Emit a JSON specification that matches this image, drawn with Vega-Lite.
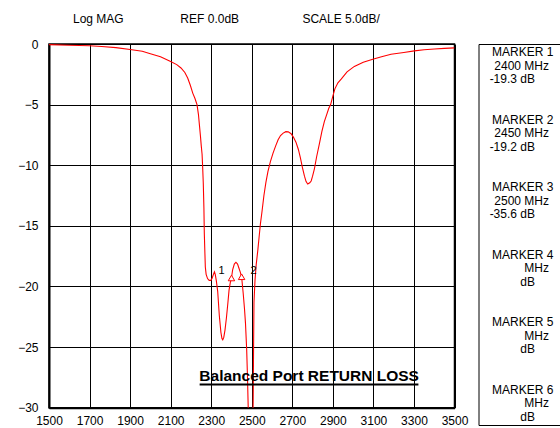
{
  "$schema": "https://vega.github.io/schema/vega-lite/v6.json",
  "padding": {"left": 5, "top": 12, "right": 0, "bottom": 0},
  "bounds": "flush",
  "spacing": 23.5,
  "config": {"font": "Liberation Sans", "view": {"stroke": null}},
  "hconcat": [
    {
      "width": 405.5,
      "height": 363.7,
      "title": {
        "text": "Log MAG\u00a0\u00a0\u00a0\u00a0\u00a0\u00a0\u00a0\u00a0\u00a0\u00a0\u00a0\u00a0\u00a0\u00a0\u00a0\u00a0\u00a0REF 0.0dB\u00a0\u00a0\u00a0\u00a0\u00a0\u00a0\u00a0\u00a0\u00a0\u00a0\u00a0\u00a0\u00a0\u00a0\u00a0\u00a0\u00a0\u00a0\u00a0SCALE 5.0dB/",
        "anchor": "start",
        "frame": "group",
        "dx": 24,
        "offset": 3,
        "baseline": "alphabetic",
        "fontSize": 12,
        "fontWeight": "normal",
        "font": "Liberation Sans",
        "color": "black"
      },
      "view": {"stroke": "black", "strokeWidth": 1.5},
      "layer": [
        {
          "data": {"values": [
            {"f":1500,"db":-0.05},{"f":1600,"db":-0.1},{"f":1700,"db":-0.15},{"f":1760,"db":-0.2},{"f":1830,"db":-0.3},{"f":1900,"db":-0.45},{"f":1960,"db":-0.6},{"f":2000,"db":-0.8},{"f":2050,"db":-1.05},{"f":2100,"db":-1.45},{"f":2130,"db":-1.7},{"f":2151,"db":-1.98},{"f":2170,"db":-2.35},{"f":2184,"db":-2.8},{"f":2197,"db":-3.4},{"f":2209,"db":-4.05},{"f":2220,"db":-4.5},{"f":2230,"db":-5.0},{"f":2237,"db":-5.8},{"f":2242,"db":-6.7},{"f":2247,"db":-7.6},{"f":2251,"db":-8.4},{"f":2255,"db":-9.1},{"f":2258,"db":-10.2},{"f":2261,"db":-11.5},{"f":2264,"db":-13.5},{"f":2266,"db":-15.6},{"f":2269,"db":-17.3},{"f":2271,"db":-18.4},{"f":2275,"db":-19.0},{"f":2282,"db":-19.35},{"f":2290,"db":-19.5},{"f":2298,"db":-19.5},{"f":2305,"db":-19.3},{"f":2311,"db":-19.0},{"f":2316,"db":-18.8},{"f":2320,"db":-19.0},{"f":2325,"db":-19.5},{"f":2332,"db":-20.4},{"f":2340,"db":-22.4},{"f":2348,"db":-23.8},{"f":2353,"db":-24.3},{"f":2357,"db":-24.4},{"f":2362,"db":-24.2},{"f":2368,"db":-23.6},{"f":2375,"db":-22.6},{"f":2382,"db":-21.4},{"f":2388,"db":-20.3},{"f":2394,"db":-19.7},{"f":2400,"db":-19.3},{"f":2406,"db":-18.6},{"f":2414,"db":-18.15},{"f":2422,"db":-18.0},{"f":2430,"db":-18.15},{"f":2437,"db":-18.5},{"f":2443,"db":-18.8},{"f":2450,"db":-19.2},{"f":2458,"db":-20.6},{"f":2464,"db":-21.8},{"f":2469,"db":-23.0},{"f":2475,"db":-25.2},{"f":2479,"db":-27.5},{"f":2483,"db":-30.3},{"f":2490,"db":-33.5},{"f":2500,"db":-35.6},{"f":2504,"db":-32.5},{"f":2507,"db":-29.5},{"f":2509,"db":-25.0},{"f":2511,"db":-21.3},{"f":2516,"db":-19.5},{"f":2522,"db":-18.2},{"f":2530,"db":-17.0},{"f":2537,"db":-15.8},{"f":2543,"db":-14.8},{"f":2550,"db":-13.9},{"f":2560,"db":-12.5},{"f":2570,"db":-11.4},{"f":2580,"db":-10.5},{"f":2592,"db":-9.7},{"f":2605,"db":-9.0},{"f":2618,"db":-8.4},{"f":2630,"db":-7.9},{"f":2642,"db":-7.55},{"f":2655,"db":-7.35},{"f":2668,"db":-7.23},{"f":2680,"db":-7.25},{"f":2694,"db":-7.4},{"f":2706,"db":-7.7},{"f":2718,"db":-8.1},{"f":2730,"db":-8.7},{"f":2740,"db":-9.4},{"f":2750,"db":-10.2},{"f":2760,"db":-10.9},{"f":2768,"db":-11.35},{"f":2776,"db":-11.55},{"f":2786,"db":-11.45},{"f":2793,"db":-11.3},{"f":2800,"db":-10.9},{"f":2809,"db":-10.3},{"f":2820,"db":-9.3},{"f":2834,"db":-8.2},{"f":2846,"db":-7.2},{"f":2858,"db":-6.4},{"f":2870,"db":-5.8},{"f":2880,"db":-5.3},{"f":2889,"db":-5.0},{"f":2900,"db":-4.3},{"f":2910,"db":-3.7},{"f":2925,"db":-3.2},{"f":2941,"db":-2.9},{"f":2970,"db":-2.3},{"f":3006,"db":-1.85},{"f":3050,"db":-1.5},{"f":3097,"db":-1.25},{"f":3140,"db":-1.05},{"f":3187,"db":-0.85},{"f":3250,"db":-0.7},{"f":3302,"db":-0.57},{"f":3350,"db":-0.47},{"f":3401,"db":-0.41},{"f":3450,"db":-0.36},{"f":3500,"db":-0.32}
          ]},
          "mark": {"type": "line", "color": "#ff0000", "strokeWidth": 1.1, "clip": true},
          "encoding": {
            "x": {"field": "f", "type": "quantitative",
              "scale": {"domain": [1500, 3500], "nice": false, "zero": false},
              "axis": {"values": [1500,1700,1900,2100,2300,2500,2700,2900,3100,3300,3500], "format": "d", "title": null, "grid": true, "gridColor": "black", "gridWidth": 1, "gridOpacity": 1, "ticks": false, "tickSize": 0, "domainColor": "black", "domainWidth": 2, "labelColor": "black", "labelFontSize": 12, "labelFont": "Liberation Sans", "labelPadding": 8, "labelOverlap": false, "labelFlush": false, "labelBound": false}},
            "y": {"field": "db", "type": "quantitative",
              "scale": {"domain": [-30, 0], "nice": false, "zero": false},
              "axis": {"values": [-30,-25,-20,-15,-10,-5,0], "format": "d", "title": null, "grid": true, "gridColor": "black", "gridWidth": 1, "gridOpacity": 1, "ticks": false, "tickSize": 0, "domainColor": "black", "domainWidth": 2, "labelColor": "black", "labelFontSize": 12, "labelFont": "Liberation Sans", "labelPadding": 11, "minExtent": 43, "labelOverlap": false, "labelFlush": false, "labelBound": false}}
          }
        },
        {
          "data": {"name": "markers", "values": [
            {"marker": 1, "f": 2400, "db": -19.3},
            {"marker": 2, "f": 2450, "db": -19.2},
            {"marker": 3, "f": 2500, "db": -35.6}
          ]},
          "layer": [
            {
              "mark": {"type": "point", "shape": "triangle-up", "size": 42, "filled": true, "fill": "white", "stroke": "#ff0000", "strokeWidth": 1, "opacity": 1, "clip": true},
              "encoding": {"x": {"field": "f", "type": "quantitative"}, "y": {"field": "db", "type": "quantitative"}}
            },
            {
              "transform": [{"filter": "datum.marker == 1"}],
              "mark": {"type": "text", "dx": -10, "dy": -7, "fontSize": 11, "color": "black", "baseline": "middle", "align": "center", "clip": true},
              "encoding": {"x": {"field": "f", "type": "quantitative"}, "y": {"field": "db", "type": "quantitative"}, "text": {"field": "marker"}}
            },
            {
              "transform": [{"filter": "datum.marker == 2"}],
              "mark": {"type": "text", "dx": 12, "dy": -6, "fontSize": 11, "color": "black", "baseline": "middle", "align": "center", "clip": true},
              "encoding": {"x": {"field": "f", "type": "quantitative"}, "y": {"field": "db", "type": "quantitative"}, "text": {"field": "marker"}}
            }
          ]
        },
        {
          "data": {"values": [{"label": "Balanced Port RETURN LOSS", "f": 2783, "db": -27.78, "f_start": 2243, "f_end": 3322, "db_line": -28.08}]},
          "layer": [
            {
              "mark": {"type": "text", "fontSize": 15.5, "fontWeight": "bold", "align": "center", "baseline": "alphabetic", "color": "black"},
              "encoding": {"x": {"field": "f", "type": "quantitative"}, "y": {"field": "db", "type": "quantitative"}, "text": {"field": "label"}}
            },
            {
              "mark": {"type": "rule", "color": "black", "strokeWidth": 2},
              "encoding": {"x": {"field": "f_start", "type": "quantitative"}, "x2": {"field": "f_end"}, "y": {"field": "db_line", "type": "quantitative"}}
            }
          ]
        }
      ]
    },
    {
      "width": 83,
      "height": 381,
      "view": {"stroke": "black", "strokeWidth": 1},
      "data": {"values": [
        {"k": 1, "l1": "MARKER 1", "l2": "2400 MHz", "l3": "-19.3 dB"},
        {"k": 2, "l1": "MARKER 2", "l2": "2450 MHz", "l3": "-19.2 dB"},
        {"k": 3, "l1": "MARKER 3", "l2": "2500 MHz", "l3": "-35.6 dB"},
        {"k": 4, "l1": "MARKER 4", "l2": "MHz", "l3": "dB"},
        {"k": 5, "l1": "MARKER 5", "l2": "MHz", "l3": "dB"},
        {"k": 6, "l1": "MARKER 6", "l2": "MHz", "l3": "dB"}
      ]},
      "encoding": {"y": {"field": "k", "type": "ordinal", "scale": {"type": "point", "padding": 0.322}, "axis": null}},
      "layer": [
        {"mark": {"type": "text", "align": "left", "baseline": "middle", "dx": -28, "dy": -13.3, "fontSize": 12, "color": "black"}, "encoding": {"text": {"field": "l1"}}},
        {"mark": {"type": "text", "align": "right", "baseline": "middle", "dx": 29, "dy": 0, "fontSize": 12, "color": "black"}, "encoding": {"text": {"field": "l2"}}},
        {"mark": {"type": "text", "align": "right", "baseline": "middle", "dx": 15, "dy": 13.3, "fontSize": 12, "color": "black"}, "encoding": {"text": {"field": "l3"}}}
      ]
    }
  ]
}
